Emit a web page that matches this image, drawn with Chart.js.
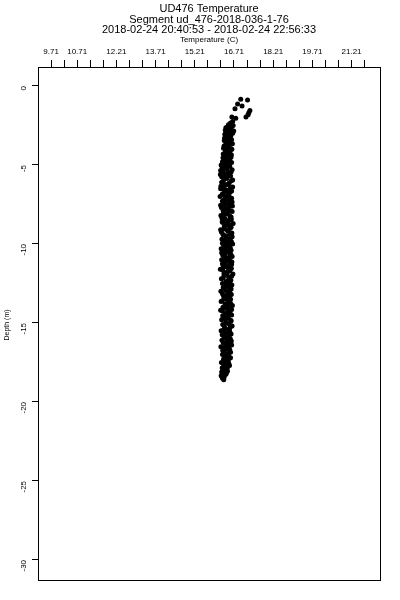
<!DOCTYPE html>
<html>
<head>
<meta charset="utf-8">
<script src="https://cdn.jsdelivr.net/npm/chart.js@4"></script>
<style>
  html, body { margin: 0; padding: 0; background: #fff; }
  #wrap { width: 400px; height: 600px; }
</style>
</head>
<body>
<div id="wrap"><canvas id="profileChart" width="400" height="600"></canvas></div>
<script>
const titleLines = ["UD476 Temperature", "Segment ud_476-2018-036-1-76", "2018-02-24 20:40:53 - 2018-02-24 22:56:33"];
const xTitle = "Temperature (C)";
const yTitle = "Depth (m)";

// top axis ticks (every 0.5 C) and the ones that carry a label
const xTicks = [9.71, 10.21, 10.71, 11.21, 11.71, 12.21, 12.71, 13.21, 13.71, 14.21, 14.71, 15.21, 15.71,
  16.21, 16.71, 17.21, 17.71, 18.21, 18.71, 19.21, 19.71, 20.21, 20.71, 21.21, 21.71];
const xLabels = [9.71, 10.71, 12.21, 13.71, 15.21, 16.71, 18.21, 19.71, 21.21];
const yTicks = [0, -5, -10, -15, -20, -25, -30];

// near-surface scatter
const topDepth = [-0.84, -0.89, -1.14, -1.27, -1.44, -1.56, -1.70, -1.82, -1.96, -1.96, -2.05, -2.25, -2.34];
const topTemp = [16.97, 17.23, 16.85, 17.02, 16.75, 17.32, 17.28, 17.25, 17.17, 16.63, 16.78, 16.66, 16.58];

// main column (down cast)
const depth = [
  -2.4, -2.5, -2.6, -2.7, -2.8, -2.9, -3.0, -3.1, -3.2, -3.3, -3.4, -3.5, -3.6, -3.7, -3.8, -3.9,
  -4.0, -4.1, -4.2, -4.3, -4.4, -4.5, -4.6, -4.7, -4.8, -4.9,
  -5.0, -5.1, -5.2, -5.3, -5.4, -5.5, -5.6, -5.7, -5.8, -5.9,
  -6.0, -6.1, -6.2, -6.3, -6.4, -6.5, -6.6, -6.7, -6.8, -6.9,
  -7.0, -7.1, -7.2, -7.3, -7.4, -7.5, -7.6, -7.7, -7.8, -7.9,
  -8.0, -8.1, -8.2, -8.3, -8.4, -8.5, -8.6, -8.7, -8.8, -8.9,
  -9.0, -9.1, -9.2, -9.3, -9.4, -9.5, -9.6, -9.7, -9.8, -9.9,
  -10.0, -10.1, -10.2, -10.3, -10.4, -10.5, -10.6, -10.7, -10.8, -10.9,
  -11.0, -11.1, -11.2, -11.3, -11.4, -11.5, -11.6, -11.7, -11.8, -11.9,
  -12.0, -12.1, -12.2, -12.3, -12.4, -12.5, -12.6, -12.7, -12.8, -12.9,
  -13.0, -13.1, -13.2, -13.3, -13.4, -13.5, -13.6, -13.7, -13.8, -13.9,
  -14.0, -14.1, -14.2, -14.3, -14.4, -14.5, -14.6, -14.7, -14.8, -14.9,
  -15.0, -15.1, -15.2, -15.3, -15.4, -15.5, -15.6, -15.7, -15.8, -15.9,
  -16.0, -16.1, -16.2, -16.3, -16.4, -16.5, -16.6, -16.7, -16.8, -16.9,
  -17.0, -17.1, -17.2, -17.3, -17.4, -17.5, -17.6, -17.7, -17.8, -17.9,
  -18.0, -18.1, -18.2, -18.3, -18.4, -18.5, -18.6
];
const temp = [
  16.55, 16.68, 16.45, 16.60, 16.38, 16.52, 16.66, 16.44, 16.57, 16.35, 16.62, 16.48, 16.40, 16.58, 16.33, 16.50,
  16.63, 16.39, 16.54, 16.30, 16.47, 16.60, 16.36, 16.52, 16.27, 16.45,
  16.22, 16.55, 16.38, 16.64, 16.28, 16.47, 16.19, 16.58, 16.41, 16.33,
  16.61, 16.24, 16.50, 16.36, 16.66, 16.20, 16.44, 16.57, 16.30, 16.52,
  16.18, 16.62, 16.40, 16.27, 16.55, 16.35, 16.65, 16.23, 16.48, 16.59,
  16.31, 16.42, 16.21, 16.60, 16.37, 16.53, 16.26, 16.68, 16.45, 16.34,
  16.56, 16.20, 16.49, 16.63, 16.29, 16.41, 16.58, 16.25, 16.52, 16.38,
  16.66, 16.32, 16.46, 16.22, 16.60, 16.39, 16.54, 16.28, 16.64, 16.43,
  16.24, 16.57, 16.36, 16.62, 16.30, 16.49, 16.19, 16.55, 16.42, 16.67,
  16.33, 16.51, 16.23, 16.59, 16.40, 16.27, 16.63, 16.46, 16.35, 16.56,
  16.21, 16.48, 16.61, 16.31, 16.43, 16.58, 16.26, 16.52, 16.37, 16.65,
  16.29, 16.45, 16.20, 16.56, 16.39, 16.62, 16.32, 16.50, 16.24, 16.59,
  16.41, 16.28, 16.64, 16.35, 16.53, 16.22, 16.47, 16.60, 16.30, 16.44,
  16.57, 16.25, 16.49, 16.38, 16.62, 16.21, 16.46, 16.55, 16.33, 16.51,
  16.27, 16.43, 16.58, 16.31, 16.48, 16.23, 16.40, 16.54, 16.29, 16.45,
  16.36, 16.24, 16.41, 16.30, 16.34, 16.27, 16.32
];

// second pass through the column (up cast), filling between the first
const depth2 = [
  -2.45, -2.55, -2.65, -2.75, -2.85, -2.95, -3.05, -3.15, -3.25, -3.35,
  -3.45, -3.55, -3.65, -3.75, -3.85, -3.95, -4.05, -4.15, -4.25, -4.35,
  -4.45, -4.55, -4.65, -4.75, -4.85, -4.95, -5.05, -5.15, -5.25, -5.35,
  -5.45, -5.55, -5.65, -5.75, -5.85, -5.95, -6.05, -6.15, -6.25, -6.35,
  -6.45, -6.55, -6.65, -6.75, -6.85, -6.95, -7.05, -7.15, -7.25, -7.35,
  -7.45, -7.55, -7.65, -7.75, -7.85, -7.95, -8.05, -8.15, -8.25, -8.35,
  -8.45, -8.55, -8.65, -8.75, -8.85, -8.95, -9.05, -9.15, -9.25, -9.35,
  -9.45, -9.55, -9.65, -9.75, -9.85, -9.95, -10.05, -10.15, -10.25, -10.35,
  -10.45, -10.55, -10.65, -10.75, -10.85, -10.95, -11.05, -11.15, -11.25, -11.35,
  -11.45, -11.55, -11.65, -11.75, -11.85, -11.95, -12.05, -12.15, -12.25, -12.35,
  -12.45, -12.55, -12.65, -12.75, -12.85, -12.95, -13.05, -13.15, -13.25, -13.35,
  -13.45, -13.55, -13.65, -13.75, -13.85, -13.95, -14.05, -14.15, -14.25, -14.35,
  -14.45, -14.55, -14.65, -14.75, -14.85, -14.95, -15.05, -15.15, -15.25, -15.35,
  -15.45, -15.55, -15.65, -15.75, -15.85, -15.95, -16.05, -16.15, -16.25, -16.35,
  -16.45, -16.55, -16.65, -16.75, -16.85, -16.95, -17.05, -17.15, -17.25, -17.35,
  -17.45, -17.55, -17.65, -17.75, -17.85, -17.95, -18.05, -18.15, -18.25, -18.35,
  -18.45
];
const temp2 = [
  16.50, 16.62, 16.40, 16.55, 16.70, 16.47, 16.36, 16.59, 16.43, 16.53,
  16.34, 16.56, 16.65, 16.42, 16.48, 16.31, 16.58, 16.45, 16.37, 16.61,
  16.40, 16.29, 16.55, 16.43, 16.62, 16.34, 16.50, 16.26, 16.45, 16.20,
  16.60, 16.35, 16.52, 16.24, 16.44, 16.66, 16.30, 16.53, 16.41, 16.21,
  16.57, 16.33, 16.62, 16.43, 16.26, 16.48, 16.37, 16.55, 16.29, 16.64,
  16.45, 16.20, 16.52, 16.38, 16.29, 16.64, 16.47, 16.33, 16.56, 16.25,
  16.61, 16.44, 16.28, 16.51, 16.39, 16.60, 16.33, 16.46, 16.23, 16.55,
  16.32, 16.64, 16.44, 16.36, 16.61, 16.27, 16.50, 16.41, 16.57, 16.35,
  16.48, 16.24, 16.59, 16.36, 16.52, 16.31, 16.45, 16.63, 16.27, 16.51,
  16.38, 16.61, 16.28, 16.48, 16.33, 16.44, 16.62, 16.30, 16.53, 16.47,
  16.55, 16.36, 16.50, 16.30, 16.60, 16.39, 16.55, 16.27, 16.44, 16.53,
  16.34, 16.46, 16.22, 16.58, 16.43, 16.51, 16.36, 16.62, 16.27, 16.48,
  16.54, 16.28, 16.46, 16.35, 16.60, 16.41, 16.52, 16.33, 16.57, 16.39,
  16.31, 16.55, 16.38, 16.26, 16.52, 16.35, 16.44, 16.61, 16.30, 16.41,
  16.54, 16.34, 16.42, 16.28, 16.58, 16.38, 16.50, 16.34, 16.53, 16.37,
  16.35, 16.51, 16.33, 16.47, 16.26, 16.38, 16.46, 16.29, 16.40, 16.22,
  16.31
];

const points = topTemp.map((t, i) => ({ x: t, y: topDepth[i] }))
  .concat(temp.map((t, i) => ({ x: t, y: depth[i] })))
  .concat(temp2.map((t, i) => ({ x: t, y: depth2[i] })));

const FONT = "'Liberation Sans', Arial, sans-serif";

// box + titles, R style
const frame = {
  id: "frame",
  afterDraw(chart) {
    const { ctx, chartArea: a } = chart;
    ctx.save();
    ctx.strokeStyle = "#000";
    ctx.lineWidth = 1;
    ctx.strokeRect(Math.round(a.left) + 0.5, Math.round(a.top) + 0.5,
      Math.round(a.right - a.left), Math.round(a.bottom - a.top));
    ctx.fillStyle = "#000";
    ctx.textAlign = "center";
    ctx.textBaseline = "middle";
    ctx.font = "11px " + FONT;
    titleLines.forEach((s, i) => ctx.fillText(s, 209, 9 + i * 10.5));
    ctx.font = "8px " + FONT;
    ctx.fillText(xTitle, 209, 40);
    ctx.translate(7, 325);
    ctx.rotate(-Math.PI / 2);
    ctx.font = "7px " + FONT;
    ctx.fillText(yTitle, 0, 0);
    ctx.restore();
  }
};

new Chart(document.getElementById("profileChart"), {
  type: "scatter",
  data: {
    datasets: [{
      data: points,
      pointRadius: 2.5,
      pointBackgroundColor: "#000",
      pointBorderWidth: 0,
      pointHoverRadius: 2.5
    }]
  },
  options: {
    responsive: false,
    animation: false,
    layout: { padding: { top: 0, left: 0, right: 20, bottom: 20 } },
    plugins: { legend: { display: false }, tooltip: { enabled: false } },
    scales: {
      x: {
        position: "top",
        min: 9.21,
        max: 22.30,
        afterBuildTicks: (axis) => { axis.ticks = xTicks.map(v => ({ value: v })); },
        afterFit: (axis) => { axis.height = 67; },
        grid: { drawOnChartArea: false, drawTicks: true, tickLength: 7, color: "#000" },
        border: { display: false },
        ticks: {
          autoSkip: false,
          maxRotation: 0,
          padding: 3,
          color: "#000",
          font: { family: FONT, size: 8 },
          callback: (v) => xLabels.includes(v) ? v.toFixed(2) : ""
        }
      },
      y: {
        min: -31.27,
        max: 1.2,
        afterBuildTicks: (axis) => { axis.ticks = yTicks.map(v => ({ value: v })); },
        afterFit: (axis) => { axis.width = 38; },
        grid: { drawOnChartArea: false, drawTicks: true, tickLength: 6, color: "#000" },
        border: { display: false },
        ticks: {
          autoSkip: false,
          minRotation: 90,
          maxRotation: 90,
          padding: 8,
          color: "#000",
          font: { family: FONT, size: 8 },
          callback: (v) => String(v)
        }
      }
    }
  },
  plugins: [frame]
});
</script>
</body>
</html>
